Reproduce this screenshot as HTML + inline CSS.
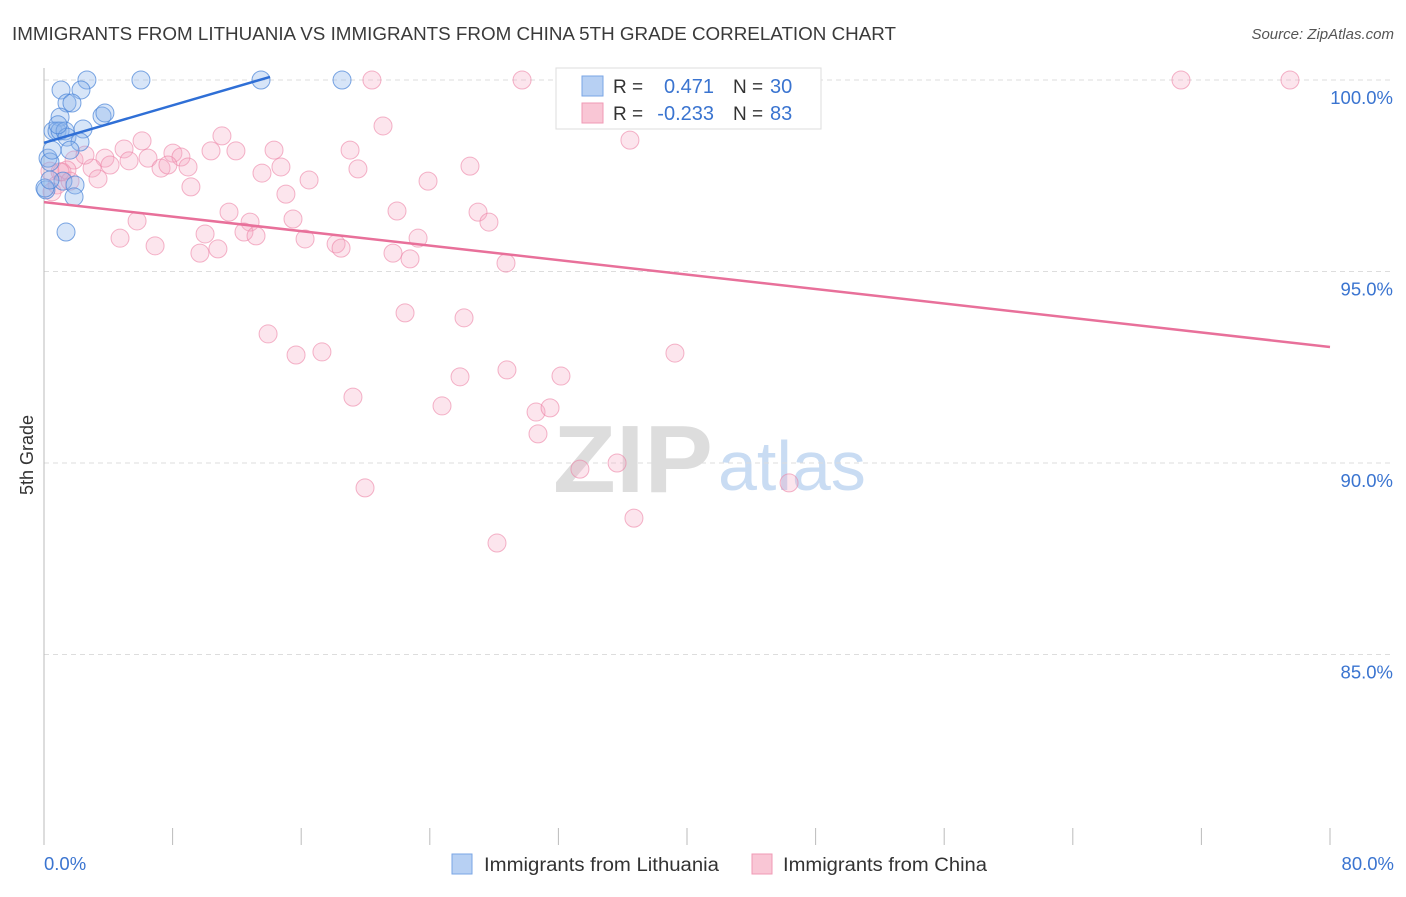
<!DOCTYPE html>
<html><head><meta charset="utf-8"><style>
body{margin:0;background:#fff;font-family:"Liberation Sans",sans-serif}
svg text{font-family:"Liberation Sans",sans-serif}
</style></head><body>
<svg id="c" width="1406" height="892" xmlns="http://www.w3.org/2000/svg">
<text x="12" y="40" font-size="18" fill="#3a3a3a" textLength="884" lengthAdjust="spacingAndGlyphs">IMMIGRANTS FROM LITHUANIA VS IMMIGRANTS FROM CHINA 5TH GRADE CORRELATION CHART</text>
<text x="1394" y="39" font-size="15" fill="#555" font-style="italic" text-anchor="end">Source: ZipAtlas.com</text>
<text transform="translate(33,455) rotate(-90)" font-size="18" fill="#333" text-anchor="middle">5th Grade</text>
<g>
<text x="553" y="492" font-size="96" fill="#ddd" font-family="Liberation Serif" font-weight="bold" textLength="160" lengthAdjust="spacingAndGlyphs">ZIP</text>
<text x="718" y="490" font-size="70" fill="#c9dcf3">atlas</text>
</g>
<g id="grid"></g><g id="axes"></g><g id="pts"></g><g id="lines"></g>
<g>
<rect x="556" y="68" width="265" height="61" fill="#fff" stroke="#ddd"/>
<rect x="582" y="76" width="21" height="20" fill="#b7d0f3" stroke="#7aa6e6"/>
<rect x="582" y="103" width="21" height="20" fill="#f9c6d5" stroke="#f09ab5"/>
<text x="613" y="93" font-size="19" fill="#333">R =</text>
<text x="714" y="93" font-size="20" fill="#3a74d0" text-anchor="end">0.471</text>
<text x="733" y="93" font-size="19" fill="#333">N =</text>
<text x="770" y="93" font-size="20" fill="#3a74d0">30</text>
<text x="613" y="120" font-size="19" fill="#333">R =</text>
<text x="714" y="120" font-size="20" fill="#3a74d0" text-anchor="end">-0.233</text>
<text x="733" y="120" font-size="19" fill="#333">N =</text>
<text x="770" y="120" font-size="20" fill="#3a74d0">83</text>
</g>
<g>
<rect x="452" y="854" width="20" height="20" fill="#b7d0f3" stroke="#7aa6e6"/>
<text x="484" y="871" font-size="19" fill="#333" textLength="235" lengthAdjust="spacingAndGlyphs">Immigrants from Lithuania</text>
<rect x="752" y="854" width="20" height="20" fill="#f9c6d5" stroke="#f09ab5"/>
<text x="783" y="871" font-size="19" fill="#333" textLength="204" lengthAdjust="spacingAndGlyphs">Immigrants from China</text>
</g>
</svg>
<script>
const yTicks=[100,95,90,85];
const yTickLabels=["100.0%","95.0%","90.0%","85.0%"];
const xTicks=[0,8,16,24,32,40,48,56,64,72,80];
const blueX=[1.06,2.67,6.03,13.5,18.54,2.30,1.43,1.74,1.0,3.61,3.79,0.56,0.81,1.0,1.31,2.43,1.43,2.24,1.62,0.25,0.37,0.12,1.18,1.93,1.87,1.37,0.5,0.06,0.87,0.37];
const blueY=[99.74,100,100,100,100,99.74,99.4,99.4,99.03,99.06,99.14,98.67,98.67,98.67,98.67,98.72,98.51,98.38,98.17,97.96,97.86,97.13,97.36,97.26,96.95,96.03,98.17,97.18,98.83,97.39];
const pinkX=[20.40,29.74,32.91,70.73,77.51,21.09,36.45,11.07,6.10,4.98,8.02,10.39,11.94,14.31,19.04,26.50,19.53,6.47,8.52,3.79,5.29,7.28,7.71,8.96,1.87,2.99,4.11,14.74,13.56,16.49,23.89,9.14,15.05,3.36,1.12,0.37,0.81,1.43,11.51,12.82,15.49,21.96,27.0,27.68,5.79,12.44,13.19,10.02,16.24,18.17,18.48,23.27,21.71,22.77,28.74,4.73,6.91,9.70,10.82,22.46,26.13,13.94,15.68,17.29,39.25,25.88,28.80,32.16,19.22,24.76,30.61,31.48,30.73,33.34,35.65,19.97,46.35,36.70,28.18,1.0,0.5,1.62,2.55];
const pinkY=[100,100,100,100,100,98.80,98.43,98.54,98.41,98.20,98.09,98.15,98.15,98.17,98.17,97.75,97.68,97.96,97.99,97.96,97.89,97.70,97.78,97.73,97.91,97.70,97.78,97.73,97.57,97.39,97.36,97.21,97.02,97.42,97.60,97.62,97.26,97.65,96.55,96.29,96.37,96.58,96.55,96.29,96.32,96.03,95.93,95.98,95.85,95.72,95.61,95.87,95.48,95.33,95.22,95.87,95.67,95.48,95.59,93.92,93.79,93.37,92.82,92.90,92.87,92.25,92.43,92.27,91.72,91.49,91.33,91.44,90.76,89.84,90.0,89.35,89.48,88.56,87.91,97.60,97.08,97.36,98.04];
const blueTrendX=[0,14.06];
const blueTrendY=[98.36,100.08];
const pinkTrendX=[0,80];
const pinkTrendY=[96.81,93.03];
const NS="http://www.w3.org/2000/svg";
const X=v=>44+v/80*1286;
const Y=v=>80+(100-v)/5*191.5;
function mk(p,t,a){const e=document.createElementNS(NS,t);for(const k in a)e.setAttribute(k,a[k]);document.getElementById(p).appendChild(e);return e;}
yTicks.forEach((t,i)=>{
 const l=mk('grid','line',{x1:44,x2:1394,y1:Y(t),y2:Y(t),stroke:'#ddd','stroke-dasharray':'5,4'});
 
 
 const tx=mk('grid','text',{x:1393,y:Y(t)+24,'font-size':18.5,fill:'#3a74d0','text-anchor':'end'});
 tx.textContent=yTickLabels[i];
 
 
});
const ax=mk('axes','line',{x1:44,x2:44,y1:68,y2:845,stroke:'#bbb'});


xTicks.forEach(t=>{
 const l=mk('axes','line',{x1:X(t),x2:X(t),y1:828,y2:845,stroke:'#bbb'});
 
 
});
const x0=mk('axes','text',{x:44,y:870,'font-size':18.5,fill:'#3a74d0'});x0.textContent='0.0%';


const x1=mk('axes','text',{x:1394,y:870,'font-size':18.5,fill:'#3a74d0','text-anchor':'end'});x1.textContent='80.0%';


pinkX.forEach((v,i)=>{
 const c=mk('pts','circle',{cx:X(v),cy:Y(pinkY[i]),r:9,fill:'rgba(246,170,195,0.3)',stroke:'rgba(236,130,165,0.6)','stroke-width':1});
 
 
});
blueX.forEach((v,i)=>{
 const c=mk('pts','circle',{cx:X(v),cy:Y(blueY[i]),r:9,fill:'rgba(140,180,235,0.35)',stroke:'rgba(70,130,215,0.7)','stroke-width':1});
 
 
});
const bl=mk('lines','line',{x1:X(blueTrendX[0]),y1:Y(blueTrendY[0]),x2:X(blueTrendX[1]),y2:Y(blueTrendY[1]),stroke:'#2f6fd6','stroke-width':2.5});


const pl=mk('lines','line',{x1:X(pinkTrendX[0]),y1:Y(pinkTrendY[0]),x2:X(pinkTrendX[1]),y2:Y(pinkTrendY[1]),stroke:'#e8709a','stroke-width':2.5});


</script>
</body></html>
